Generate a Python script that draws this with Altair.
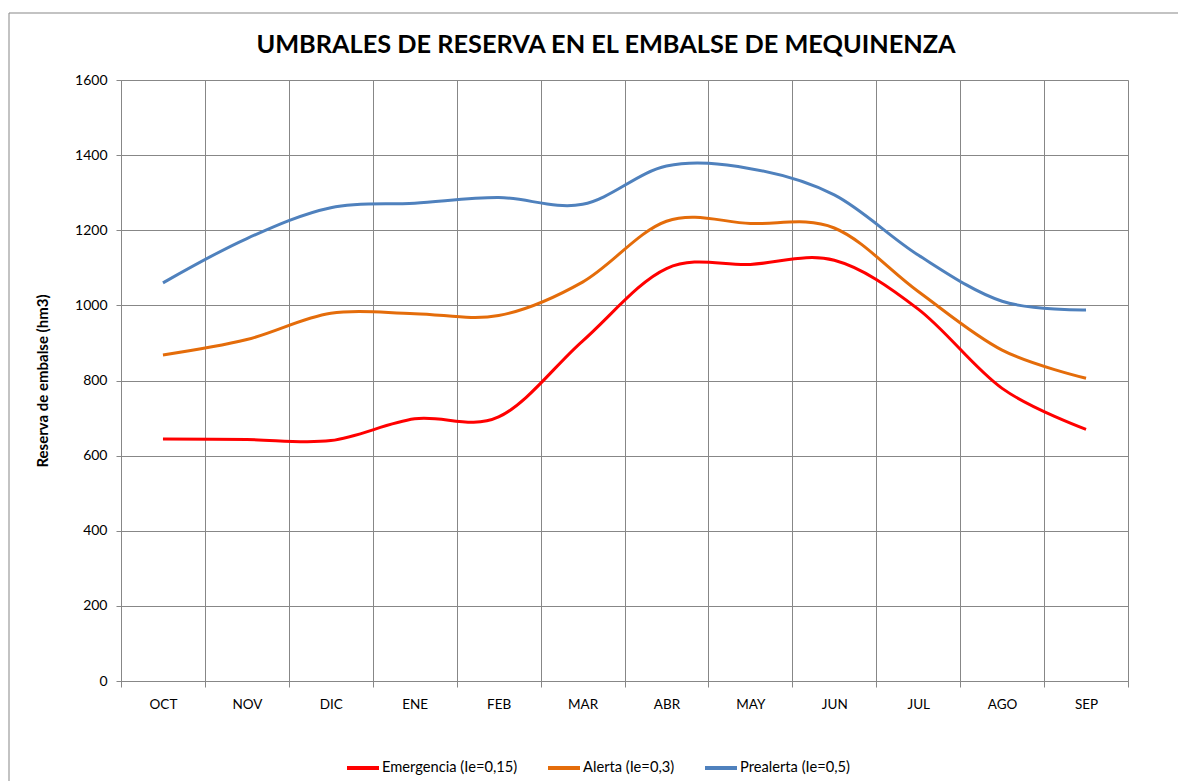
import altair as alt
import pandas as pd

title_text = "UMBRALES DE RESERVA EN EL EMBALSE DE MEQUINENZA"
months = ["OCT", "NOV", "DIC", "ENE", "FEB", "MAR", "ABR", "MAY", "JUN", "JUL", "AGO", "SEP"]
series_names = ["Emergencia (Ie=0,15)", "Alerta (Ie=0,3)", "Prealerta (Ie=0,5)"]
emergencia = [644, 643, 640, 698, 703, 905, 1098, 1109, 1120, 990, 779, 670]
alerta = [868, 909, 979, 978, 973, 1062, 1224, 1218, 1206, 1037, 881, 806]
prealerta = [1060, 1178, 1260, 1272, 1287, 1269, 1371, 1364, 1294, 1134, 1011, 988]
colors = ["#FF0000", "#E46C0A", "#4F81BD"]

rows = []
for name, vals in zip(series_names, [emergencia, alerta, prealerta]):
    for m, v in zip(months, vals):
        rows.append({"mes": m, "serie": name, "valor": v})
df = pd.DataFrame(rows)

FONT = "Lato"

lines = alt.Chart(df).mark_line(strokeWidth=3, interpolate="cardinal").encode(
    x=alt.X("mes:N", sort=months,
            scale=alt.Scale(type="band", paddingInner=0, paddingOuter=0),
            axis=alt.Axis(title=None, tickBand="extent", labelAngle=0,
                          labelFont=FONT, labelFontSize=13.5, labelColor="#000",
                          labelPadding=10, tickSize=6, tickColor="#878787",
                          domainColor="#878787", gridColor="#878787",
                          grid=True)),
    y=alt.Y("valor:Q", scale=alt.Scale(domain=[0, 1600], nice=False),
            axis=alt.Axis(title="Reserva de embalse  (hm3)", values=list(range(0, 1601, 200)),
                          format="d",
                          titleFont=FONT, titleFontSize=15, titleFontWeight="bold",
                          titleColor="#000", titlePadding=24,
                          labelFont=FONT, labelFontSize=14, labelColor="#000",
                          labelPadding=9, tickSize=5, tickColor="#878787",
                          domainColor="#878787", gridColor="#878787", grid=True)),
    color=alt.Color("serie:N", sort=series_names,
                    scale=alt.Scale(domain=series_names, range=colors),
                    legend=alt.Legend(title=None, orient="none", legendX=224, legendY=670,
                                      direction="horizontal", symbolType="stroke",
                                      symbolSize=1024, symbolStrokeWidth=4,
                                      labelFont=FONT, labelFontSize=14.7, labelColor="#000",
                                      labelOffset=1, columnPadding=22)),
)

frame = alt.Chart(pd.DataFrame({"k": [0]})).mark_rect(
    fill=None, stroke="#878787", strokeWidth=1, clip=False
).encode(
    x=alt.value(-112), x2=alt.value(1062), y=alt.value(-67), y2=alt.value(720)
)

title = alt.Chart(pd.DataFrame({"t": [title_text]})).mark_text(
    font=FONT, fontSize=25.3, fontWeight="bold", color="#000",
    align="center", baseline="alphabetic"
).encode(text="t:N", x=alt.value(485), y=alt.value(-27))

chart = alt.layer(frame, lines, title).properties(
    width=1007, height=601,
    autosize=alt.AutoSizeParams(type="none"),
    padding={"left": 113, "top": 72, "right": 50, "bottom": 100},
).configure_view(stroke=None).configure(background="white")

chart.save("out.html", embed_options={"renderer": "svg", "actions": False})
